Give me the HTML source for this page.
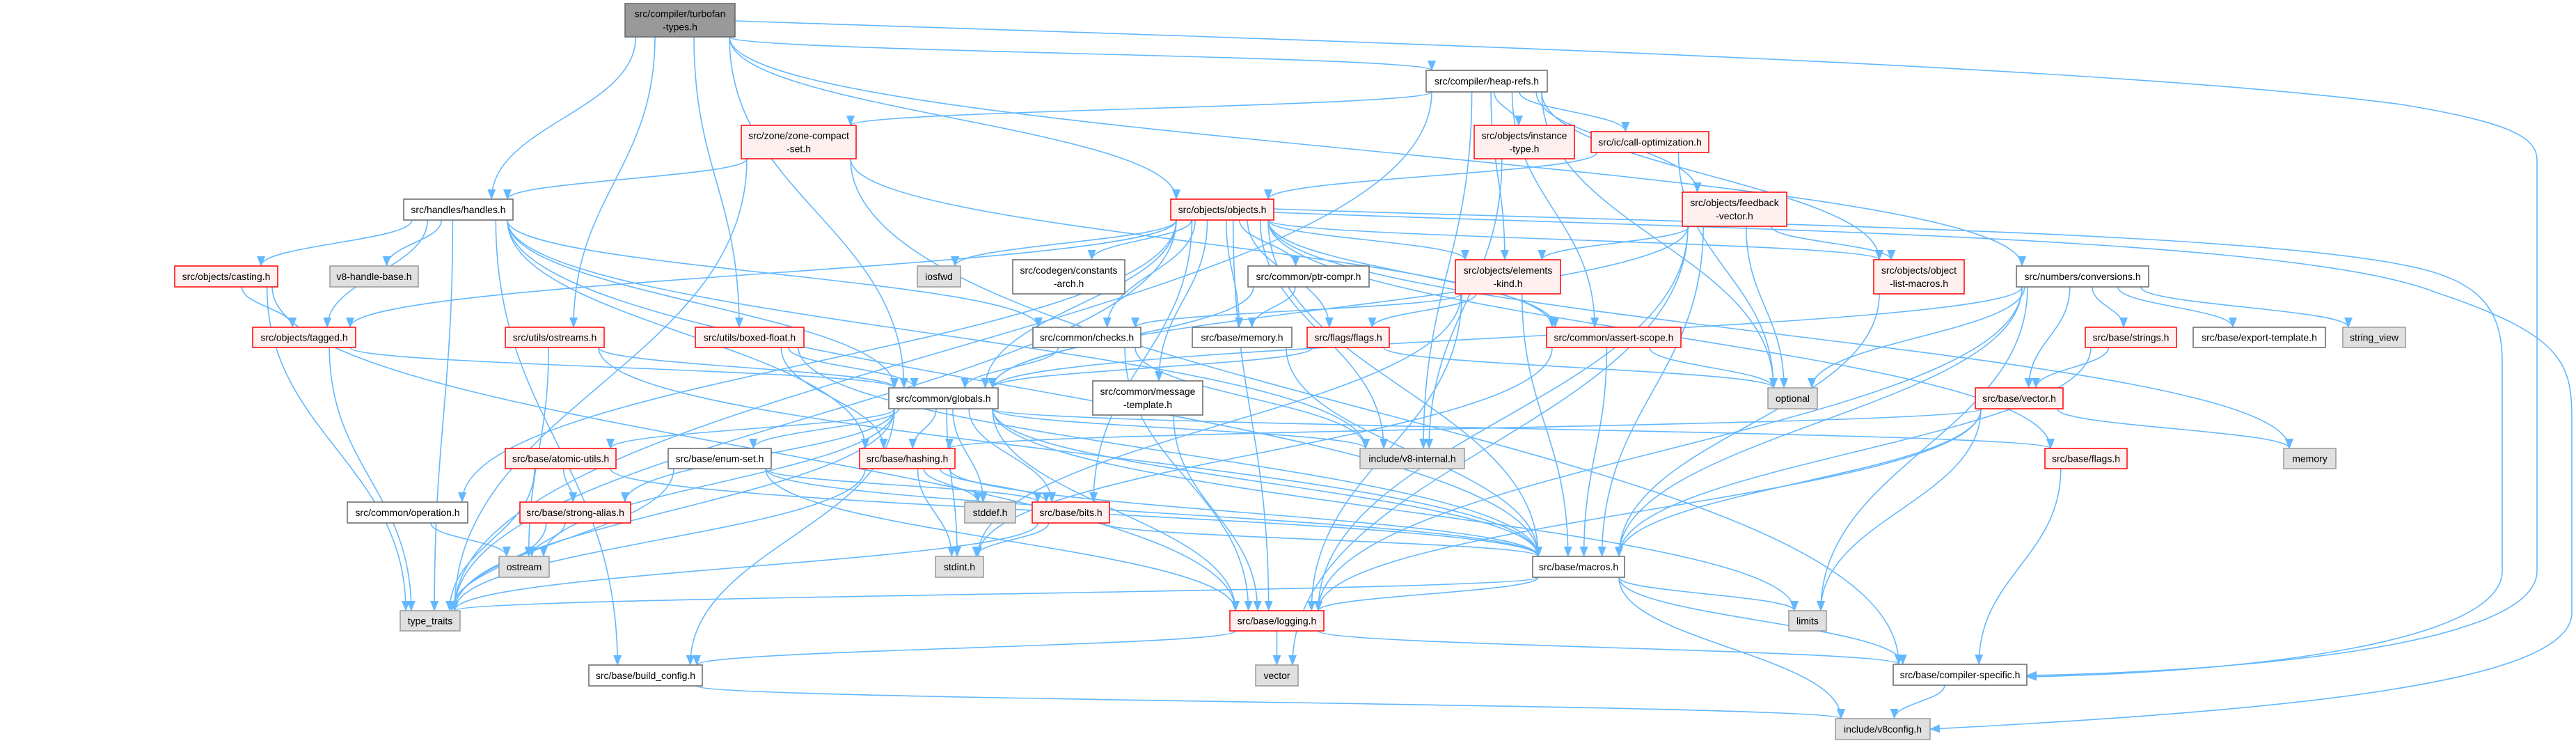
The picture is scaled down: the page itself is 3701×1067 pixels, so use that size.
<!DOCTYPE html>
<html><head><meta charset="utf-8">
<style>
html,body{margin:0;padding:0;background:#fff;}
svg{display:block;}
text{font-family:"Liberation Sans",sans-serif;font-size:14px;fill:#000;}
</style></head>
<body>
<svg id="g" xmlns="http://www.w3.org/2000/svg" width="3701" height="1067" viewBox="0 0 3701 1067">
<defs>
<marker id="ah" markerUnits="userSpaceOnUse" markerWidth="16" markerHeight="12" refX="14" refY="6" orient="auto">
<path d="M0,0 L15,6 L0,12 z" fill="#63b8ff"/>
</marker>
</defs>
<g id="edges" fill="none" stroke="#63b8ff" stroke-width="1.6"></g>
<g id="nodes"></g>
</svg>
<script>
var N={
T:[898,5,1056,53,"m","src/compiler/turbofan|-types.h"],
heap:[2049,101,2223,132,"w","src/compiler/heap-refs.h"],
zone:[1065,180,1230,228,"r","src/zone/zone-compact|-set.h"],
handles:[580,286,737,316,"w","src/handles/handles.h"],
objects:[1682,286,1830,316,"r","src/objects/objects.h"],
inst:[2118,180,2262,228,"r","src/objects/instance|-type.h"],
callopt:[2286,189,2455,219,"r","src/ic/call-optimization.h"],
feedback:[2417,276,2567,325,"r","src/objects/feedback|-vector.h"],
conv:[2897,382,3087,412,"w","src/numbers/conversions.h"],
casting:[251,382,399,412,"r","src/objects/casting.h"],
hbase:[474,382,601,412,"g","v8-handle-base.h"],
iosfwd:[1318,382,1380,412,"g","iosfwd"],
carch:[1455,373,1616,422,"w","src/codegen/constants|-arch.h"],
ptr:[1793,382,1967,412,"w","src/common/ptr-compr.h"],
ek:[2091,373,2242,422,"r","src/objects/elements|-kind.h"],
olm:[2692,373,2822,422,"r","src/objects/object|-list-macros.h"],
tagged:[363,470,511,499,"r","src/objects/tagged.h"],
ostreams:[726,470,868,499,"r","src/utils/ostreams.h"],
boxed:[999,470,1155,499,"r","src/utils/boxed-float.h"],
checks:[1484,470,1639,499,"w","src/common/checks.h"],
bmem:[1713,470,1856,499,"w","src/base/memory.h"],
fflags:[1878,470,1996,499,"r","src/flags/flags.h"],
assert:[2222,470,2415,499,"r","src/common/assert-scope.h"],
strings:[2996,470,3127,499,"r","src/base/strings.h"],
export:[3151,470,3341,499,"w","src/base/export-template.h"],
sview:[3366,470,3456,499,"g","string_view"],
globals:[1277,557,1434,587,"w","src/common/globals.h"],
msg:[1570,547,1728,596,"w","src/common/message|-template.h"],
optional:[2540,557,2611,587,"g","optional"],
vech:[2838,557,2964,587,"r","src/base/vector.h"],
atomic:[726,644,885,673,"r","src/base/atomic-utils.h"],
enumset:[960,644,1108,673,"w","src/base/enum-set.h"],
hashing:[1235,644,1372,673,"r","src/base/hashing.h"],
v8int:[1954,644,2104,673,"g","include/v8-internal.h"],
bflags:[2938,644,3056,673,"r","src/base/flags.h"],
memory:[3281,644,3356,673,"g","memory"],
operation:[499,721,672,751,"w","src/common/operation.h"],
strong:[747,721,906,751,"r","src/base/strong-alias.h"],
stddef:[1386,721,1459,751,"g","stddef.h"],
bits:[1483,721,1594,751,"r","src/base/bits.h"],
ostream:[717,799,789,829,"g","ostream"],
stdint:[1344,799,1413,829,"g","stdint.h"],
macros:[2202,799,2334,829,"w","src/base/macros.h"],
tt:[575,877,661,906,"g","type_traits"],
logging:[1767,877,1902,906,"r","src/base/logging.h"],
limits:[2570,877,2624,906,"g","limits"],
bcfg:[846,955,1009,985,"w","src/base/build_config.h"],
vector:[1804,955,1865,985,"g","vector"],
cspec:[2720,954,2912,984,"w","src/base/compiler-specific.h"],
v8cfg:[2637,1032,2773,1062,"g","include/v8config.h"]
};
var E={
T:"handles heap objects ostreams globals conv boxed",
heap:"zone inst callopt feedback ek olm optional tt v8int assert",
zone:"handles tt assert cspec",
handles:"casting hbase tagged globals checks macros tt bcfg hashing v8int",
objects:"iosfwd carch ptr checks ek fflags assert olm bmem globals tagged operation macros bits logging msg v8int bflags memory tt",
inst:"v8int",
callopt:"objects optional",
feedback:"ek olm optional macros logging globals vector",
ek:"checks fflags macros stdint logging",
olm:"macros",
conv:"globals optional strings export sview vech macros logging limits",
casting:"tagged tt logging",
tagged:"globals tt",
ostreams:"globals ostream macros",
boxed:"globals hashing macros",
checks:"globals v8int logging",
ptr:"globals bmem",
bmem:"macros",
fflags:"globals optional",
assert:"macros stdint optional",
strings:"vech macros",
vech:"memory macros logging limits hashing",
globals:"atomic enumset hashing stddef bits stdint ostream tt macros logging v8int strong bcfg bflags limits",
msg:"logging",
atomic:"strong tt macros",
strong:"ostream tt",
operation:"ostream",
enumset:"tt bits macros logging",
hashing:"stddef bits stdint tt macros",
bits:"stdint tt macros",
bflags:"cspec",
macros:"tt logging limits cspec v8cfg",
logging:"vector bcfg cspec",
bcfg:"v8cfg",
cspec:"v8cfg"
};
var SVGNS="http://www.w3.org/2000/svg";
var eg=document.getElementById("edges"),ng=document.getElementById("nodes");
function P(d){var p=document.createElementNS(SVGNS,"path");p.setAttribute("d",d);p.setAttribute("marker-end","url(#ah)");eg.appendChild(p);}
function cl(v,a,b){return Math.max(a,Math.min(b,v));}
for(var s in E){E[s].split(" ").forEach(function(t){
 var a=N[s],b=N[t];if(!a||!b)return;
 var acx=(a[0]+a[2])/2,acy=(a[1]+a[3])/2,bcx=(b[0]+b[2])/2,bcy=(b[1]+b[3])/2;
 var sx,sy,tx,ty,d;
 if(b[1]>a[3]+8){
  sx=cl(acx+(bcx-acx)*0.2,a[0]+8,a[2]-8);sy=a[3];
  tx=cl(bcx+(acx-bcx)*0.15,b[0]+8,b[2]-8);ty=b[1];
  var h=(ty-sy)*0.45;
  d="M"+sx+","+sy+" C"+sx+","+(sy+h)+" "+tx+","+(ty-h)+" "+tx+","+ty;
 } else if(b[3]<a[1]-8){
  sx=cl(acx+(bcx-acx)*0.2,a[0]+8,a[2]-8);sy=a[1];
  tx=cl(bcx+(acx-bcx)*0.15,b[0]+8,b[2]-8);ty=b[3];
  var h=(sy-ty)*0.45;
  d="M"+sx+","+sy+" C"+sx+","+(sy-h)+" "+tx+","+(ty+h)+" "+tx+","+ty;
 } else {
  if(bcx>acx){sx=a[2];tx=b[0];}else{sx=a[0];tx=b[2];}
  sy=acy;ty=bcy;var m=(sx+tx)/2;
  d="M"+sx+","+sy+" C"+m+","+sy+" "+m+","+ty+" "+tx+","+ty;
 }
 P(d);
});}
P("M1056,30 C1800,55 3000,90 3450,150 C3600,175 3645,195 3645,230 L3645,820 C3645,930 3200,965 2912,970");
P("M1830,300 C2400,320 3200,330 3450,380 C3560,400 3595,440 3595,520 L3595,820 C3595,920 3250,965 2912,972");
P("M1830,305 C2500,330 3300,340 3500,420 C3680,480 3695,520 3695,600 L3695,880 C3695,980 3300,1020 2773,1047");
for(var k in N){var n=N[k];
 var r=document.createElementNS(SVGNS,"rect");
 r.setAttribute("x",n[0]);r.setAttribute("y",n[1]);r.setAttribute("width",n[2]-n[0]);r.setAttribute("height",n[3]-n[1]);
 var f="#ffffff",st="#666666";
 if(n[4]=="r"){f="#fff0f0";st="#ff0000";}
 if(n[4]=="g"){f="#e0e0e0";st="#999999";}
 if(n[4]=="m"){f="#999999";st="#666666";}
 r.setAttribute("fill",f);r.setAttribute("stroke",st);r.setAttribute("stroke-width","1.5");
 ng.appendChild(r);
 var lines=n[5].split("|"),cx=(n[0]+n[2])/2,cy=(n[1]+n[3])/2;
 lines.forEach(function(l,i){
  var t=document.createElementNS(SVGNS,"text");
  t.setAttribute("x",cx);t.setAttribute("y",cy+5+(i-(lines.length-1)/2)*19);
  t.setAttribute("text-anchor","middle");t.textContent=l;ng.appendChild(t);
 });
}
</script>
</body></html>
